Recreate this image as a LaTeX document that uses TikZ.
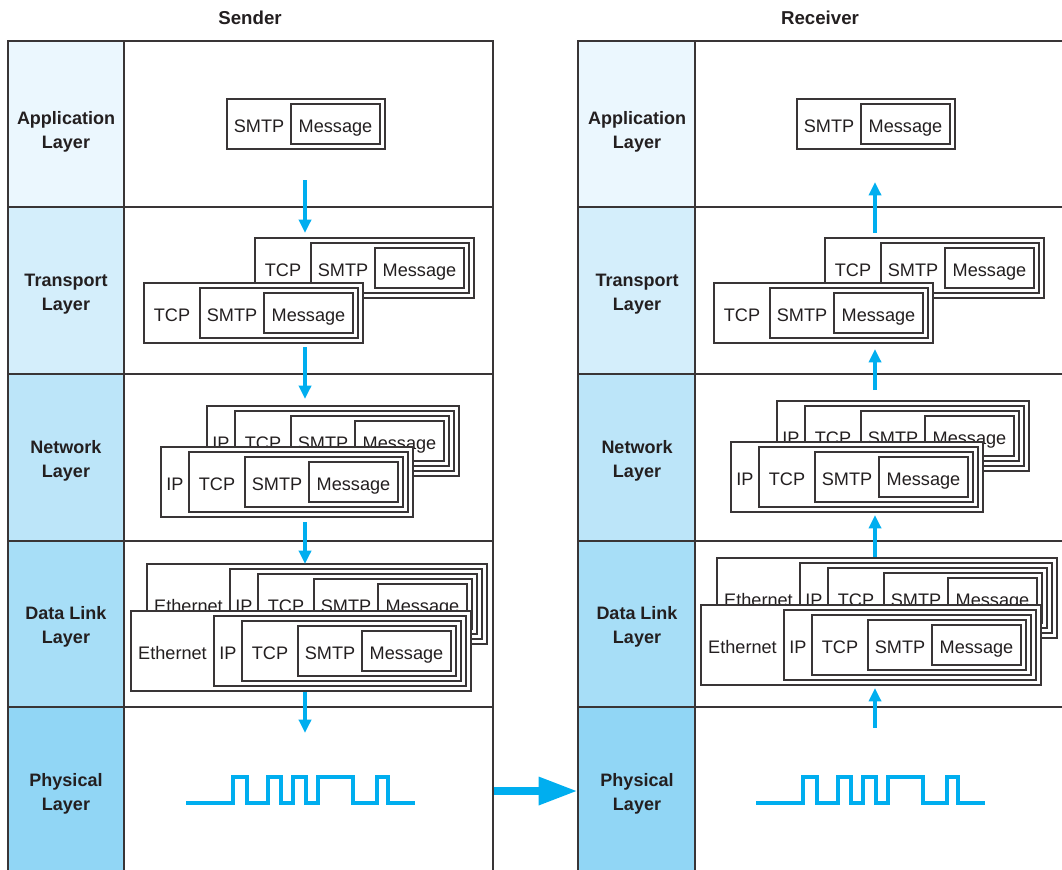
\documentclass[tikz,border=0pt]{standalone}
\usepackage{fontspec}
\setmainfont{Liberation Sans}
\usepackage{tikz}
\usetikzlibrary{
    arrows.meta,                      % puntas (Triangle)
    fit                               % cajas a partir de esquinas
}
\definecolor{lay_app}{RGB}{235,247,254}
\definecolor{lay_trn}{RGB}{212,238,251}
\definecolor{lay_net}{RGB}{188,229,249}
\definecolor{lay_dl}{RGB}{167,222,247}
\definecolor{lay_phy}{RGB}{145,214,245}
\definecolor{signal}{RGB}{0,174,239}
\definecolor{ink}{RGB}{35,31,32}
\tikzset{
    cell/.style={
        draw=ink!90, line width=1.1pt, inner sep=0pt
    },
    layer/.style={
        inner sep=0pt, align=center, text=ink, yshift=-2.2pt,
        font=\fontsize{13.5}{18}\selectfont\bfseries
    },
    pkt/.style={
        draw=ink!90, line width=0.8pt, fill=white, inner sep=0pt
    },
    hdr/.style={
        inner sep=0pt, text=ink, text height=0.716em, text depth=0pt,
        yshift=-2.6pt, font=\fontsize{13.6}{15}\selectfont
    },
    title/.style={
        text=ink, font=\fontsize{14}{16}\selectfont\bfseries
    }
}

\begin{document}
\begin{tikzpicture}[
      x=0.75pt, y=-0.75pt,
      flow/.style={-{Triangle[length=10pt,width=9pt]}, line width=2.8pt, signal},
      wave/.style={line width=2.3pt, signal},
      link/.style={-{Triangle[length=29pt,width=20pt]}, line width=5.5pt, signal}
    ]
    \useasboundingbox (0,0) rectangle (1062,869);

    % --- Titulos ---
    \node[title] (s_title) at (250,18) {Sender};
    \node[title] (r_title) at (820,18) {Receiver};

    % --- Capas emisor ---
    \node[cell, fill=lay_app, fit={(8,41) (124,207)}]  (s_app) {};
    \node[cell, fill=lay_trn, fit={(8,207) (124,374)}] (s_trn) {};
    \node[cell, fill=lay_net, fit={(8,374) (124,541)}] (s_net) {};
    \node[cell, fill=lay_dl,  fit={(8,541) (124,707)}] (s_dl)  {};
    \node[cell, fill=lay_phy, fit={(8,707) (124,875)}] (s_phy) {};
    \node[layer] (s_app_l) at (66,129) {Application\\Layer};
    \node[layer] (s_trn_l) at (66,291) {Transport\\Layer};
    \node[layer] (s_net_l) at (66,458) {Network\\Layer};
    \node[layer] (s_dl_l)  at (66,624) {Data Link\\Layer};
    \node[layer] (s_phy_l) at (66,791) {Physical\\Layer};
    \node[cell, fit={(124,41) (493,207)}]  (s_app_c) {};
    \node[cell, fit={(124,207) (493,374)}] (s_trn_c) {};
    \node[cell, fit={(124,374) (493,541)}] (s_net_c) {};
    \node[cell, fit={(124,541) (493,707)}] (s_dl_c)  {};
    \node[cell, fit={(124,707) (493,875)}] (s_phy_c) {};

    % --- Capas receptor ---
    \node[cell, fill=lay_app, fit={(578,41) (695,207)}]  (r_app) {};
    \node[cell, fill=lay_trn, fit={(578,207) (695,374)}] (r_trn) {};
    \node[cell, fill=lay_net, fit={(578,374) (695,541)}] (r_net) {};
    \node[cell, fill=lay_dl,  fit={(578,541) (695,707)}] (r_dl)  {};
    \node[cell, fill=lay_phy, fit={(578,707) (695,875)}] (r_phy) {};
    \node[layer] (r_app_l) at (637,129) {Application\\Layer};
    \node[layer] (r_trn_l) at (637,291) {Transport\\Layer};
    \node[layer] (r_net_l) at (637,458) {Network\\Layer};
    \node[layer] (r_dl_l)  at (637,624) {Data Link\\Layer};
    \node[layer] (r_phy_l) at (637,791) {Physical\\Layer};
    \node[cell, fit={(695,41) (1064,207)}]  (r_app_c) {};
    \node[cell, fit={(695,207) (1064,374)}] (r_trn_c) {};
    \node[cell, fit={(695,374) (1064,541)}] (r_net_c) {};
    \node[cell, fit={(695,541) (1064,707)}] (r_dl_c)  {};
    \node[cell, fit={(695,707) (1064,875)}] (r_phy_c) {};

    % ================= EMISOR =================

    % --- Aplicacion ---
    \node[pkt, fit={(227,99) (385,149)}]  (s_app_smtp) {};
    \node[hdr] (s_app_smtp_l) at (259,124) {SMTP};
    \node[pkt, fit={(291,104) (380,144)}] (s_app_msg) {};
    \node[hdr] (s_app_msg_l) at (335.5,124) {Message};

    % --- Transporte (detras / delante) ---
    \node[pkt, fit={(255,238) (474,298)}] (s_trn_b_tcp) {};
    \node[hdr] (s_trn_b_tcp_l) at (283,268) {TCP};
    \node[pkt, fit={(311,243) (469,293)}] (s_trn_b_smtp) {};
    \node[hdr] (s_trn_b_smtp_l) at (343,268) {SMTP};
    \node[pkt, fit={(375,248) (464,288)}] (s_trn_b_msg) {};
    \node[hdr] (s_trn_b_msg_l) at (419.5,268) {Message};

    \node[pkt, fit={(144,283) (363,343)}] (s_trn_f_tcp) {};
    \node[hdr] (s_trn_f_tcp_l) at (172,313) {TCP};
    \node[pkt, fit={(200,288) (358,338)}] (s_trn_f_smtp) {};
    \node[hdr] (s_trn_f_smtp_l) at (232,313) {SMTP};
    \node[pkt, fit={(264,293) (353,333)}] (s_trn_f_msg) {};
    \node[hdr] (s_trn_f_msg_l) at (308.5,313) {Message};

    % --- Red ---
    \node[pkt, fit={(207,406) (459,476)}] (s_net_b_ip) {};
    \node[hdr] (s_net_b_ip_l) at (221,441) {IP};
    \node[pkt, fit={(235,411) (454,471)}] (s_net_b_tcp) {};
    \node[hdr] (s_net_b_tcp_l) at (263,441) {TCP};
    \node[pkt, fit={(291,416) (449,466)}] (s_net_b_smtp) {};
    \node[hdr] (s_net_b_smtp_l) at (323,441) {SMTP};
    \node[pkt, fit={(355,421) (444,461)}] (s_net_b_msg) {};
    \node[hdr] (s_net_b_msg_l) at (399.5,441) {Message};

    \node[pkt, fit={(161,447) (413,517)}] (s_net_f_ip) {};
    \node[hdr] (s_net_f_ip_l) at (175,482) {IP};
    \node[pkt, fit={(189,452) (408,512)}] (s_net_f_tcp) {};
    \node[hdr] (s_net_f_tcp_l) at (217,482) {TCP};
    \node[pkt, fit={(245,457) (403,507)}] (s_net_f_smtp) {};
    \node[hdr] (s_net_f_smtp_l) at (277,482) {SMTP};
    \node[pkt, fit={(309,462) (398,502)}] (s_net_f_msg) {};
    \node[hdr] (s_net_f_msg_l) at (353.5,482) {Message};

    % --- Enlace de datos ---
    \node[pkt, fit={(147,564) (487,644)}] (s_dl_b_eth) {};
    \node[hdr] (s_dl_b_eth_l) at (188.5,604) {Ethernet};
    \node[pkt, fit={(230,569) (482,639)}] (s_dl_b_ip) {};
    \node[hdr] (s_dl_b_ip_l) at (244,604) {IP};
    \node[pkt, fit={(258,574) (477,634)}] (s_dl_b_tcp) {};
    \node[hdr] (s_dl_b_tcp_l) at (286,604) {TCP};
    \node[pkt, fit={(314,579) (472,629)}] (s_dl_b_smtp) {};
    \node[hdr] (s_dl_b_smtp_l) at (346,604) {SMTP};
    \node[pkt, fit={(378,584) (467,624)}] (s_dl_b_msg) {};
    \node[hdr] (s_dl_b_msg_l) at (422.5,604) {Message};

    \node[pkt, fit={(131,611) (471,691)}] (s_dl_f_eth) {};
    \node[hdr] (s_dl_f_eth_l) at (172.5,651) {Ethernet};
    \node[pkt, fit={(214,616) (466,686)}] (s_dl_f_ip) {};
    \node[hdr] (s_dl_f_ip_l) at (228,651) {IP};
    \node[pkt, fit={(242,621) (461,681)}] (s_dl_f_tcp) {};
    \node[hdr] (s_dl_f_tcp_l) at (270,651) {TCP};
    \node[pkt, fit={(298,626) (456,676)}] (s_dl_f_smtp) {};
    \node[hdr] (s_dl_f_smtp_l) at (330,651) {SMTP};
    \node[pkt, fit={(362,631) (451,671)}] (s_dl_f_msg) {};
    \node[hdr] (s_dl_f_msg_l) at (406.5,651) {Message};

    % ================= RECEPTOR =================

    % --- Aplicacion ---
    \node[pkt, fit={(797,99) (955,149)}]  (r_app_smtp) {};
    \node[hdr] (r_app_smtp_l) at (829,124) {SMTP};
    \node[pkt, fit={(861,104) (950,144)}] (r_app_msg) {};
    \node[hdr] (r_app_msg_l) at (905.5,124) {Message};

    % --- Transporte ---
    \node[pkt, fit={(825,238) (1044,298)}] (r_trn_b_tcp) {};
    \node[hdr] (r_trn_b_tcp_l) at (853,268) {TCP};
    \node[pkt, fit={(881,243) (1039,293)}] (r_trn_b_smtp) {};
    \node[hdr] (r_trn_b_smtp_l) at (913,268) {SMTP};
    \node[pkt, fit={(945,248) (1034,288)}] (r_trn_b_msg) {};
    \node[hdr] (r_trn_b_msg_l) at (989.5,268) {Message};

    \node[pkt, fit={(714,283) (933,343)}] (r_trn_f_tcp) {};
    \node[hdr] (r_trn_f_tcp_l) at (742,313) {TCP};
    \node[pkt, fit={(770,288) (928,338)}] (r_trn_f_smtp) {};
    \node[hdr] (r_trn_f_smtp_l) at (802,313) {SMTP};
    \node[pkt, fit={(834,293) (923,333)}] (r_trn_f_msg) {};
    \node[hdr] (r_trn_f_msg_l) at (878.5,313) {Message};

    % --- Red ---
    \node[pkt, fit={(777,401) (1029,471)}] (r_net_b_ip) {};
    \node[hdr] (r_net_b_ip_l) at (791,436) {IP};
    \node[pkt, fit={(805,406) (1024,466)}] (r_net_b_tcp) {};
    \node[hdr] (r_net_b_tcp_l) at (833,436) {TCP};
    \node[pkt, fit={(861,411) (1019,461)}] (r_net_b_smtp) {};
    \node[hdr] (r_net_b_smtp_l) at (893,436) {SMTP};
    \node[pkt, fit={(925,416) (1014,456)}] (r_net_b_msg) {};
    \node[hdr] (r_net_b_msg_l) at (969.5,436) {Message};

    \node[pkt, fit={(731,442) (983,512)}] (r_net_f_ip) {};
    \node[hdr] (r_net_f_ip_l) at (745,477) {IP};
    \node[pkt, fit={(759,447) (978,507)}] (r_net_f_tcp) {};
    \node[hdr] (r_net_f_tcp_l) at (787,477) {TCP};
    \node[pkt, fit={(815,452) (973,502)}] (r_net_f_smtp) {};
    \node[hdr] (r_net_f_smtp_l) at (847,477) {SMTP};
    \node[pkt, fit={(879,457) (968,497)}] (r_net_f_msg) {};
    \node[hdr] (r_net_f_msg_l) at (923.5,477) {Message};

    % --- Enlace de datos ---
    \node[pkt, fit={(717,558) (1057,638)}] (r_dl_b_eth) {};
    \node[hdr] (r_dl_b_eth_l) at (758.5,598) {Ethernet};
    \node[pkt, fit={(800,563) (1052,633)}] (r_dl_b_ip) {};
    \node[hdr] (r_dl_b_ip_l) at (814,598) {IP};
    \node[pkt, fit={(828,568) (1047,628)}] (r_dl_b_tcp) {};
    \node[hdr] (r_dl_b_tcp_l) at (856,598) {TCP};
    \node[pkt, fit={(884,573) (1042,623)}] (r_dl_b_smtp) {};
    \node[hdr] (r_dl_b_smtp_l) at (916,598) {SMTP};
    \node[pkt, fit={(948,578) (1037,618)}] (r_dl_b_msg) {};
    \node[hdr] (r_dl_b_msg_l) at (992.5,598) {Message};

    \node[pkt, fit={(701,605) (1041,685)}] (r_dl_f_eth) {};
    \node[hdr] (r_dl_f_eth_l) at (742.5,645) {Ethernet};
    \node[pkt, fit={(784,610) (1036,680)}] (r_dl_f_ip) {};
    \node[hdr] (r_dl_f_ip_l) at (798,645) {IP};
    \node[pkt, fit={(812,615) (1031,675)}] (r_dl_f_tcp) {};
    \node[hdr] (r_dl_f_tcp_l) at (840,645) {TCP};
    \node[pkt, fit={(868,620) (1026,670)}] (r_dl_f_smtp) {};
    \node[hdr] (r_dl_f_smtp_l) at (900,645) {SMTP};
    \node[pkt, fit={(932,625) (1021,665)}] (r_dl_f_msg) {};
    \node[hdr] (r_dl_f_msg_l) at (976.5,645) {Message};

    % ================= FLECHAS =================

    % --- Bajada en el emisor ---
    \coordinate (s_d1a) at (305,180); \coordinate (s_d1b) at (305,233);
    \coordinate (s_d2a) at (305,347); \coordinate (s_d2b) at (305,399);
    \coordinate (s_d3a) at (305,522); \coordinate (s_d3b) at (305,564);
    \coordinate (s_d4a) at (305,692); \coordinate (s_d4b) at (305,733);
    \draw[flow] (s_d1a) -- (s_d1b);
    \draw[flow] (s_d2a) -- (s_d2b);
    \draw[flow] (s_d3a) -- (s_d3b);
    \draw[flow] (s_d4a) -- (s_d4b);

    % --- Subida en el receptor ---
    \coordinate (r_u1a) at (875,233); \coordinate (r_u1b) at (875,182);
    \coordinate (r_u2a) at (875,390); \coordinate (r_u2b) at (875,349);
    \coordinate (r_u3a) at (875,557); \coordinate (r_u3b) at (875,515);
    \coordinate (r_u4a) at (875,728); \coordinate (r_u4b) at (875,688);
    \draw[flow] (r_u1a) -- (r_u1b);
    \draw[flow] (r_u2a) -- (r_u2b);
    \draw[flow] (r_u3a) -- (r_u3b);
    \draw[flow] (r_u4a) -- (r_u4b);

    % --- Senal fisica ---
    \coordinate (s_wave) at (186,803);
    \coordinate (r_wave) at (756,803);
    \draw[wave] (s_wave) -- ++(47,0) -- ++(0,-26) -- ++(14,0) -- ++(0,26)
        -- ++(21,0) -- ++(0,-26) -- ++(13,0) -- ++(0,26) -- ++(12,0) -- ++(0,-26)
        -- ++(13,0) -- ++(0,26) -- ++(12,0) -- ++(0,-26) -- ++(35,0) -- ++(0,26)
        -- ++(24,0) -- ++(0,-26) -- ++(11,0) -- ++(0,26) -- ++(27,0);
    \draw[wave] (r_wave) -- ++(47,0) -- ++(0,-26) -- ++(14,0) -- ++(0,26)
        -- ++(21,0) -- ++(0,-26) -- ++(13,0) -- ++(0,26) -- ++(12,0) -- ++(0,-26)
        -- ++(13,0) -- ++(0,26) -- ++(12,0) -- ++(0,-26) -- ++(35,0) -- ++(0,26)
        -- ++(24,0) -- ++(0,-26) -- ++(11,0) -- ++(0,26) -- ++(27,0);

    % --- Emisor -> Receptor ---
    \draw[link] (s_phy_c.east) -- (r_phy.west);

\end{tikzpicture}
\end{document}
